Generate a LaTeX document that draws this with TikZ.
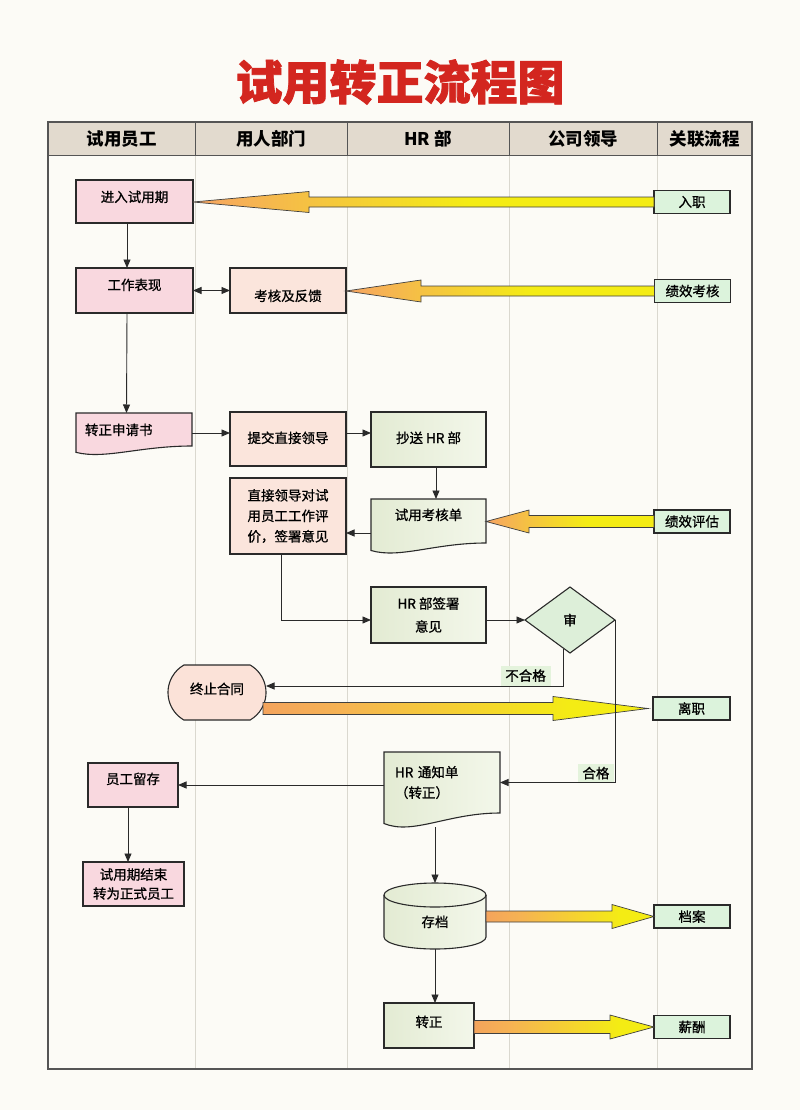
\documentclass[tikz,border=0pt]{standalone}
\usepackage{fontspec}
\setmainfont{Noto Sans CJK SC}
\newfontfamily\bodyfam{Noto Sans CJK SC}[RawFeature={embolden=0.9}]
\newfontfamily\titlefam{Noto Sans CJK SC}[BoldFeatures={RawFeature={embolden=1.6}}]
\usetikzlibrary{arrows.meta,calc,shapes.geometric,shapes.misc}
\pgfdeclarelayer{bgA}\pgfdeclarelayer{bgB}\pgfsetlayers{bgA,bgB,main}
\definecolor{PageBg}{HTML}{FCFBF6}
\definecolor{HeadF}{HTML}{E2DACE}
\definecolor{FrameC}{HTML}{555555}
\definecolor{LaneC}{HTML}{DAD8CF}
\definecolor{BoxC}{HTML}{2A2A2A}
\definecolor{PinkF}{HTML}{F9D8DF}
\definecolor{PeachF}{HTML}{FBE5DC}
\definecolor{HrL}{HTML}{E3EBD3}
\definecolor{HrR}{HTML}{F3F7EA}
\definecolor{RelF}{HTML}{DCF3DC}
\definecolor{DiaF}{HTML}{DDEFD9}
\definecolor{LblF}{HTML}{E4F3DC}
\definecolor{TermF}{HTML}{FBE2D8}
\definecolor{TitleRed}{HTML}{D3261F}
\definecolor{ArrOr}{HTML}{F6A463}
\definecolor{ArrYe}{HTML}{F4EC14}
\definecolor{ArrRed}{HTML}{EE7F72}
\pgfdeclarehorizontalshading{warmA}{100bp}{color(0bp)=(ArrOr); color(25bp)=(ArrOr); color(55bp)=(ArrYe); color(100bp)=(ArrYe)}
\pgfdeclarehorizontalshading{warmB}{100bp}{color(0bp)=(ArrRed); color(35bp)=(ArrOr!80!ArrYe); color(65bp)=(ArrYe); color(100bp)=(ArrYe)}
\newcommand{\bodyfont}{\bodyfam\fontsize{13.5}{20.5}\selectfont}
\newcommand{\fatarrow}[6]{%
  \shadedraw[fat,#1] let \p1=(#2), \p2=(#3), \n1={sign(\x2-\x1)} in
    (\x1,{\y1+#6pt}) -- ({\x2-(\n1)*#4pt},{\y1+#6pt}) -- ({\x2-(\n1)*#4pt},{\y1+#5pt})
    -- (\x2,\y1) -- ({\x2-(\n1)*#4pt},{\y1-#5pt}) -- ({\x2-(\n1)*#4pt},{\y1-#6pt})
    -- (\x1,{\y1-#6pt}) -- cycle;}
\newcommand{\docpath}[3]{%
  \path[#3] (#1.north west) -- (#1.north east) -- (#1.south east)
    .. controls ($(#1.south east)!0.45!(#1.south west)$) and ($(#1.south east)!0.75!(#1.south west)+(0,1.6*#2)$)
    .. ($(#1.south west)+(0,0.75*#2)$) -- cycle;}
\tikzset{
  box/.style={draw=BoxC, line width=1.1pt, font=\bodyfont, inner xsep=3pt, inner ysep=0pt, outer sep=0pt},
  tx/.style 2 args={text height=#1pt, text depth=#2pt},
  empbox/.style={fill=PinkF},
  deptbox/.style={fill=PeachF},
  hrbox/.style={left color=HrL, right color=HrR},
  relbox/.style={box, fill=RelF, minimum width=76, minimum height=23},
  hdr/.style={font=\fontsize{17.5}{20}\selectfont\bfseries, inner sep=0pt},
  arr/.style={draw=BoxC, line width=0.9pt, -{Triangle[length=8.5pt,width=7pt]}},
  arrtwo/.style={draw=BoxC, line width=0.9pt, {Triangle[length=8.5pt,width=7pt]}-{Triangle[length=8.5pt,width=7pt]}},
  lbl/.style={fill=LblF, font=\bodyfont, inner sep=0pt, minimum height=20},
  fat/.style={draw=black!75, line width=0.7pt},
  docemp/.style={fill=PinkF, draw=BoxC, line width=1.1pt},
  dochr/.style={left color=HrL, right color=HrR, draw=BoxC, line width=1.1pt},
  lane/.style={draw=LaneC, line width=0.8pt},
}
\begin{document}
\begin{tikzpicture}[x=1pt,y=-1pt]
\useasboundingbox (0,0) rectangle (800,1110);

% page, table frame and lanes
\begin{pgfonlayer}{bgA}
\fill[PageBg] (0,0) rectangle (800,1110);
\fill[HeadF] (48,122) rectangle (752,155);
\foreach \lx in {195,347,509,657} {
  \draw[lane] (\lx,155) -- (\lx,1069);
  \draw[draw=FrameC, line width=0.9pt] (\lx,122) -- (\lx,155);
}
\draw[draw=FrameC, line width=0.9pt] (48,155) -- (752,155);
\draw[draw=FrameC, line width=1.3pt] (48,122) rectangle (752,1069);
\end{pgfonlayer}

% title
\node[font=\titlefam\fontsize{47}{52}\selectfont\bfseries, text=TitleRed, inner sep=0pt] (title) at (400,82) {试用转正流程图};

\node[hdr] (h1) at (121.5,139) {试用员工};
\node[hdr] (h2) at (271,139) {用人部门};
\node[hdr] (h3) at (428,139) {HR 部};
\node[hdr] (h4) at (583,139) {公司领导};
\node[hdr] (h5) at (704.5,139) {关联流程};

% nodes
\node[box, empbox, minimum width=117, tx={22}{21}] (A) at (134.5,201.5) {进入试用期};
\node[relbox] (J) at (692,202) {入职};
\node[box, empbox, minimum width=117, tx={22}{23}] (B) at (134.5,290.5) {工作表现};
\node[box, deptbox, minimum width=116, tx={33}{12}] (C) at (288,290.5) {考核及反馈};
\node[relbox] (I) at (692.5,291) {绩效考核};
\node[box, draw=none, minimum width=116, text width=98pt, align=left, inner xsep=9pt, tx={22}{11}] (D) at (134,429.5) {转正申请书};
\node[box, deptbox, minimum width=116, tx={31}{23}] (E) at (288,439) {提交直接领导};
\node[box, hrbox, minimum width=115, tx={31}{24}] (F) at (428.5,439.5) {抄送 HR 部};
\node[box, draw=none, minimum width=115, tx={21}{23}] (G) at (428.5,521) {试用考核单};
\node[relbox] (K) at (692,521.5) {绩效评估};
\node[box, deptbox, minimum width=116, minimum height=76, align=center] (H) at (288,516) {直接领导对试\\用员工工作评\\价，签署意见};
\node[box, hrbox, minimum width=115, minimum height=56, align=center, font=\bodyfam\fontsize{13.5}{23}\selectfont] (L) at (428.5,615) {HR 部签署\\意见};
\node[box, diamond, fill=DiaF, minimum width=90, minimum height=66, inner sep=0pt] (M) at (570,620) {审};
\node[box, rounded rectangle, rounded rectangle arc length=120, fill=TermF, minimum width=104, tx={29}{26}] (N) at (217,692.5) {终止合同};
\node[relbox, minimum width=77] (O) at (691.5,708.5) {离职};
\node[box, draw=none, minimum width=116, minimum height=61, text width=94pt, align=left, inner xsep=11pt] (P) at (442,782.5) {HR 通知单\\（转正）};
\node[box, empbox, minimum width=90, tx={21}{23}] (Q) at (133,785) {员工留存};
\node[box, empbox, minimum width=101, minimum height=44, align=center, font=\bodyfam\fontsize{13.5}{19}\selectfont] (R) at (133.5,884) {试用期结束\\转为正式员工};
\node[box, draw=none, minimum width=102, tx={44}{22}] (S) at (435,916) {存档};
\node[relbox] (U) at (692,916.5) {档案};
\node[box, hrbox, minimum width=90, tx={24}{21}] (T) at (429,1025.5) {转正};
\node[relbox] (V) at (692,1027) {薪酬};

% document and cylinder outlines
\begin{pgfonlayer}{bgB}
\docpath{D}{8.5}{docemp}
\docpath{G}{10}{dochr}
\docpath{P}{14}{dochr}
\path[dochr] ($(S.north west)+(0,12)$) -- ($(S.south west)+(0,-12)$)
  arc[start angle=180,end angle=360,x radius=51pt,y radius=12pt]
  -- ($(S.north east)+(0,12)$)
  arc[start angle=0,end angle=180,x radius=51pt,y radius=12pt] -- cycle;
\draw[draw=BoxC, line width=1.1pt] ($(S.north east)+(0,12)$) arc[start angle=0,end angle=-180,x radius=51pt,y radius=12pt];
\end{pgfonlayer}

% fat arrows
\fatarrow{shading=warmA}{J.west}{A.east}{116}{10.5}{5}
\fatarrow{shading=warmA}{I.west}{C.east}{75}{11}{5}
\fatarrow{shading=warmA}{K.west}{G.east |- K.west}{43}{11.5}{6}
\fatarrow{shading=warmB}{$(N.east |- O.west)+(-3,0)$}{$(O.west)+(-5,0)$}{95}{12}{6}
\fatarrow{shading=warmB}{S.east |- U.west}{U.west}{42}{12}{5.5}
\fatarrow{shading=warmB}{T.east |- V.west}{V.west}{44}{12}{6.5}

% connectors
\coordinate (pdown) at ($(P.south)+(-7,14)$);
\draw[arr] ([xshift=-7.5pt]A.south) -- ([xshift=-7.5pt]B.north);
\draw[arrtwo] (B.east) -- (C.west);
\draw[arr] ([xshift=-7.5pt]B.south) -- ([xshift=-7.5pt]D.north);
\draw[arr] ([yshift=-3.5pt]D.east) -- ([yshift=-3.5pt]D.east -| E.west);
\draw[arr] ([yshift=6pt]E.east) -- ([yshift=6pt]E.east -| F.west);
\draw[arr] ([xshift=7.5pt]F.south) -- ([xshift=7.5pt]F.south |- G.north);
\draw[arr] ([yshift=-12pt]G.west) -- ([yshift=-12pt]G.west -| H.east);
\draw[arr] ([xshift=-7pt]H.south) |- ([yshift=-5pt]L.west);
\draw[arr] (M.west -| L.east) -- (M.west);
\draw[arr] ($(M.south)+(-7,-4)$) |- node[pos=0.563, lbl, anchor=south, minimum width=50] {不合格} ([yshift=6.5pt]N.east);
\draw[arr] (M.east) |- node[pos=0.583, lbl, anchor=south, minimum width=36, minimum height=18] {合格} (P.east);
\draw[arr] (P.west |- Q.east) -- (Q.east);
\draw[arr] ([xshift=-5pt]Q.south) -- ([xshift=-5pt]Q.south |- R.north);
\draw[arr] (pdown) -- (pdown |- S.north);
\draw[arr] (S.south) -- (S.south |- T.north);
\end{tikzpicture}
\end{document}
